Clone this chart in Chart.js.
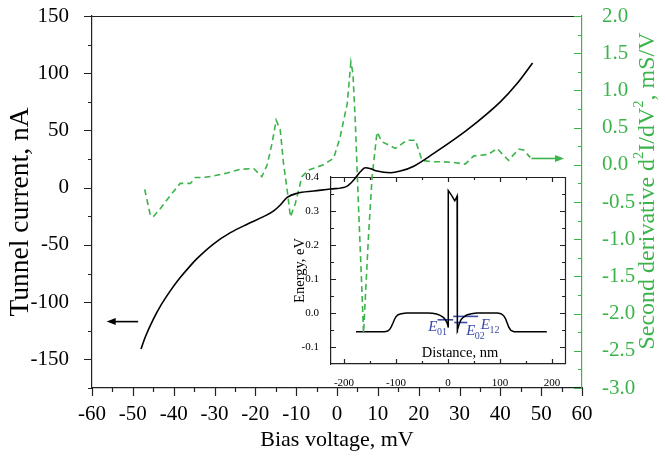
<!DOCTYPE html>
<html><head><meta charset="utf-8">
<script src="https://cdn.jsdelivr.net/npm/chart.js@4/dist/chart.umd.min.js"></script>
<style>
html,body{margin:0;padding:0;background:#fff;}
#wrap{position:relative;width:665px;height:459px;background:#fff;}
canvas{position:absolute;left:0;top:0;}
</style></head><body>
<div id="wrap"><canvas id="inset" width="665" height="459"></canvas><canvas id="main" width="665" height="459"></canvas></div>
<script>
// ---------- main chart data ----------
const ivVoltage = [-48.0,-46.9,-45.0,-43.0,-41.0,-38.5,-36.0,-34.3,-30.2,-26.1,-22.0,-18.0,-15.5,-13.9,-12.2,-9.8,-5.7,-1.6,2.5,4.1,5.7,6.9,8.3,9.8,13.1,15.5,18.8,23.7,31.8,40.0,44.1,47.9];
const ivCurrent = [-141,-130,-115,-102,-91,-79,-68.5,-62,-49,-39.3,-31.9,-25.3,-20.3,-15.1,-8.4,-4.9,-2.9,-1.2,1.4,6.7,13.9,17.4,16.5,14.5,13.1,14.5,18.8,30.0,50.3,75.0,91.0,109.0];

const d2Voltage = [-47.1,-45.7,-45.0,-43.3,-40.8,-38.4,-35.9,-34.7,-32.7,-30.2,-26.9,-23.7,-20.4,-18.4,-17.1,-15.9,-14.9,-13.9,-13.1,-12.2,-11.4,-10.2,-8.6,-7.0,-3.3,-0.8,0.8,2.5,3.4,3.9,4.5,5.2,6.0,6.5,7.7,8.6,9.8,11.0,14.3,17.1,19.2,20.8,23.3,26.1,28.6,31.4,33.5,37.1,39.2,42.0,44.5,45.7,47.3];
const d2Value   = [-0.33,-0.68,-0.70,-0.59,-0.41,-0.25,-0.25,-0.17,-0.17,-0.15,-0.11,-0.06,-0.05,-0.16,0.0,0.29,0.60,0.47,0.02,-0.34,-0.70,-0.52,-0.16,-0.07,0.0,0.09,0.38,0.82,1.38,1.23,0.56,-0.47,-1.55,-2.26,-0.97,-0.16,0.44,0.31,0.22,0.33,0.33,0.06,0.04,0.04,0.03,0.01,0.12,0.14,0.22,0.06,0.21,0.20,0.10];

const xTicks = [-60,-50,-40,-30,-20,-10,0,10,20,30,40,50,60];
const xMinorTicks = [-55,-45,-35,-25,-15,-5,5,15,25,35,45,55];
const currentTicks = [-150,-100,-50,0,50,100,150];
const currentMinorTicks = [-175,-125,-75,-25,25,75,125];
const derivTicks = [-3.0,-2.5,-2.0,-1.5,-1.0,-0.5,0.0,0.5,1.0,1.5,2.0];
const derivMinorTicks = [-2.75,-2.25,-1.75,-1.25,-0.75,-0.25,0.25,0.75,1.25,1.75];

// ---------- inset data ----------
const profileDistance = [-177,-122,-116,-112,-109,-106,-103,-100,-96,-90,-80,-40,-30,-22,-15,-9,-5,-2,0,0.5,0.5,6,10,13,15.5,17.5,17.5,18.5,20,22,25,30,36,45,55,95,102,107,111,114,117,121,127,190];
const profileEnergy   = [-0.055,-0.055,-0.053,-0.048,-0.040,-0.030,-0.019,-0.011,-0.005,-0.002,0,0,-0.001,-0.003,-0.007,-0.013,-0.020,-0.028,-0.038,-0.043,0.360,0.348,0.338,0.330,0.337,0.344,-0.058,-0.050,-0.040,-0.030,-0.020,-0.012,-0.006,-0.002,0,0,-0.002,-0.008,-0.018,-0.030,-0.042,-0.051,-0.055,-0.055];
const levelNames  = ['01','02','12'];
const levelEnergy = [-0.020,-0.028,-0.010];
const levelStart  = [-20,12,10];
const levelEnd    = [10,37,58];
const insetXTicks = [-200,-100,0,100,200];
const insetXMinorTicks = [-150,-50,50,150];
const insetYTicks = [-0.1,0.0,0.1,0.2,0.3,0.4];
const insetYMinorTicks = [-0.05,0.05,0.15,0.25,0.35];

// ---------- styling ----------
const SERIF = "'Liberation Serif','Times New Roman',serif";
const GREEN = '#3cb44b';
const BLUE = '#3a4aa8';
const AXIS = '#222';

function pts(xs, ys){ return xs.map((x,i)=>({x:x, y:ys[i]})); }
function setTicks(vals){ return s => { s.ticks = vals.map(v=>({value:v})); }; }
function fitV(w){ return s => { s.width = w; s.paddingTop = 0; s.paddingBottom = 0; }; }
function fitH(h){ return s => { s.height = h; s.paddingLeft = 0; s.paddingRight = 0; }; }

function tickMarks(ctx, scale, vals, edge, dir, len, color){
  ctx.save();
  ctx.strokeStyle = color; ctx.lineWidth = 1.2;
  ctx.beginPath();
  vals.forEach(v=>{
    const p = Math.round(scale.getPixelForValue(v)) + 0.5;
    if (scale.isHorizontal()){ ctx.moveTo(p, edge); ctx.lineTo(p, edge + dir*len); }
    else { ctx.moveTo(edge, p); ctx.lineTo(edge + dir*len, p); }
  });
  ctx.stroke();
  ctx.restore();
}
function arrow(ctx, x1, y, x2, color){
  const d = Math.sign(x2 - x1);
  ctx.save();
  ctx.strokeStyle = color; ctx.fillStyle = color; ctx.lineWidth = 1.6;
  ctx.beginPath(); ctx.moveTo(x1, y); ctx.lineTo(x2 - d*6, y); ctx.stroke();
  ctx.beginPath(); ctx.moveTo(x2, y); ctx.lineTo(x2 - d*9, y - 3.5); ctx.lineTo(x2 - d*9, y + 3.5); ctx.closePath(); ctx.fill();
  ctx.restore();
}
function richVertical(ctx, parts, cx, cy, size, supSize, raise, color){
  ctx.save();
  ctx.translate(cx, cy); ctx.rotate(-Math.PI/2);
  let total = 0;
  parts.forEach(p=>{ ctx.font = (p.sup ? supSize : size) + 'px ' + SERIF; p.w = ctx.measureText(p.t).width; total += p.w; });
  let x = -total/2;
  ctx.fillStyle = color; ctx.textBaseline = 'middle'; ctx.textAlign = 'left';
  parts.forEach(p=>{ ctx.font = (p.sup ? supSize : size) + 'px ' + SERIF; ctx.fillText(p.t, x, p.sup ? -raise : 0); x += p.w; });
  ctx.restore();
}

const mainDecor = {
  id: 'mainDecor',
  afterDatasetsDraw(chart){
    const {ctx, chartArea: a, scales: s} = chart;
    ctx.save();
    ctx.strokeStyle = AXIS; ctx.lineWidth = 1.2;
    ctx.beginPath(); ctx.moveTo(a.left, Math.round(a.top)+0.5); ctx.lineTo(a.right, Math.round(a.top)+0.5); ctx.stroke();
    ctx.restore();
    tickMarks(ctx, s.x, xTicks, a.bottom, 1, 8, AXIS);
    tickMarks(ctx, s.x, xMinorTicks, a.bottom, 1, 4, AXIS);
    tickMarks(ctx, s.y, currentTicks, a.left, -1, 8, AXIS);
    tickMarks(ctx, s.y, currentMinorTicks, a.left, -1, 4, AXIS);
    tickMarks(ctx, s.y2, derivTicks, a.right, -1, 8, GREEN);
    tickMarks(ctx, s.y2, derivMinorTicks, a.right, -1, 4, GREEN);
    const yb = s.y.getPixelForValue(-117);
    arrow(ctx, s.x.getPixelForValue(-48.7), yb, s.x.getPixelForValue(-56.4), '#000');
    const yg = s.y2.getPixelForValue(0.085);
    arrow(ctx, s.x.getPixelForValue(47.6), yg, s.x.getPixelForValue(55.6), GREEN);
    richVertical(ctx, [{t:'Tunnel current, nA'}], 21, 212, 27.5, 16, 0, '#000');
    richVertical(ctx, [{t:'Second derivative d'},{t:'2',sup:true},{t:'I/dV'},{t:'2',sup:true},{t:', mS/V'}], 648, 191, 24, 14.5, 8.5, GREEN);
  }
};

new Chart(document.getElementById('main'), {
  type: 'line',
  data: {
    datasets: [
      { label: 'Tunnel current', data: pts(ivVoltage, ivCurrent), yAxisID: 'y',
        borderColor: '#000', borderWidth: 1.6, pointRadius: 0, cubicInterpolationMode: 'monotone', fill: false },
      { label: 'Second derivative', data: pts(d2Voltage, d2Value), yAxisID: 'y2',
        borderColor: GREEN, borderWidth: 1.6, borderDash: [6,4], pointRadius: 0, tension: 0, fill: false }
    ]
  },
  options: {
    responsive: false, animation: false,
    layout: { padding: { top: 16, left: 0, right: 0, bottom: 0 } },
    plugins: { legend: { display: false }, tooltip: { enabled: false } },
    scales: {
      x: { type: 'linear', min: -60, max: 60,
        afterBuildTicks: setTicks(xTicks), afterFit: fitH(71),
        grid: { display: false }, border: { display: true, color: AXIS, width: 1.2 },
        ticks: { color: '#000', padding: 6, maxRotation: 0, font: { family: SERIF, size: 21 }, callback: v => String(v) },
        title: { display: true, text: 'Bias voltage, mV', color: '#000', font: { family: SERIF, size: 22 }, padding: { top: 0, bottom: 6 } } },
      y: { type: 'linear', position: 'left', min: -175, max: 150,
        afterBuildTicks: setTicks(currentTicks), afterFit: fitV(92),
        grid: { display: false }, border: { display: true, color: AXIS, width: 1.2 },
        ticks: { color: '#000', padding: 15, font: { family: SERIF, size: 21 }, callback: v => String(v) } },
      y2: { type: 'linear', position: 'right', min: -3, max: 2,
        afterBuildTicks: setTicks(derivTicks), afterFit: fitV(83),
        grid: { display: false }, border: { display: true, color: GREEN, width: 1.2 },
        ticks: { color: GREEN, padding: 12, font: { family: SERIF, size: 21 }, callback: v => Number(v).toFixed(1) } }
    }
  },
  plugins: [mainDecor]
});

// ---------- inset ----------
const insetDecor = {
  id: 'insetDecor',
  afterDatasetsDraw(chart){
    const {ctx, chartArea: a, scales: s} = chart;
    ctx.save();
    ctx.strokeStyle = AXIS; ctx.lineWidth = 1.2;
    ctx.beginPath();
    ctx.moveTo(a.left, Math.round(a.top)+0.5); ctx.lineTo(Math.round(a.right)+0.5, Math.round(a.top)+0.5);
    ctx.lineTo(Math.round(a.right)+0.5, a.bottom);
    ctx.stroke();
    ctx.restore();
    tickMarks(ctx, s.x, insetXTicks, a.bottom, -1, 5, AXIS);
    tickMarks(ctx, s.x, insetXMinorTicks, a.bottom, -1, 3, AXIS);
    tickMarks(ctx, s.x, insetXTicks, a.top, 1, 5, AXIS);
    tickMarks(ctx, s.x, insetXMinorTicks, a.top, 1, 3, AXIS);
    tickMarks(ctx, s.y, insetYTicks, a.left, 1, 5, AXIS);
    tickMarks(ctx, s.y, insetYMinorTicks, a.left, 1, 3, AXIS);
    tickMarks(ctx, s.y, insetYTicks, a.right, -1, 5, AXIS);
    tickMarks(ctx, s.y, insetYMinorTicks, a.right, -1, 3, AXIS);
    ctx.save();
    ctx.fillStyle = '#000'; ctx.font = '14.5px ' + SERIF; ctx.textAlign = 'center'; ctx.textBaseline = 'middle';
    ctx.fillText('Distance, nm', 460, 353);
    const anchors = [[-38, -0.054], [35, -0.064], [63, -0.047]];
    ctx.fillStyle = BLUE; ctx.textAlign = 'left'; ctx.textBaseline = 'alphabetic';
    levelNames.forEach((n, i) => {
      const x = s.x.getPixelForValue(anchors[i][0]);
      const y = s.y.getPixelForValue(anchors[i][1]);
      ctx.font = 'italic 15px ' + SERIF;
      ctx.fillText('E', x, y);
      const w = ctx.measureText('E').width;
      ctx.font = '10px ' + SERIF;
      ctx.fillText(n, x + w - 0.5, y + 4);
    });
    ctx.restore();
  }
};

const levelSets = levelNames.map((n, i) => ({
  label: 'E' + n, data: pts([levelStart[i], levelEnd[i]], [levelEnergy[i], levelEnergy[i]]),
  borderColor: BLUE, borderWidth: 1.6, pointRadius: 0, tension: 0, fill: false
}));

new Chart(document.getElementById('inset'), {
  type: 'line',
  data: {
    datasets: [
      { label: 'Profile', data: pts(profileDistance, profileEnergy), borderColor: '#000', borderWidth: 1.5,
        pointRadius: 0, tension: 0, fill: false },
      ...levelSets
    ]
  },
  options: {
    responsive: false, animation: false,
    layout: { padding: { top: 177, left: 291, right: 100, bottom: 55 } },
    plugins: { legend: { display: false }, tooltip: { enabled: false } },
    scales: {
      x: { type: 'linear', min: -225, max: 225,
        afterBuildTicks: setTicks(insetXTicks), afterFit: fitH(40),
        grid: { display: false }, border: { display: true, color: AXIS, width: 1.2 },
        ticks: { color: '#000', padding: 5, maxRotation: 0, font: { family: SERIF, size: 11 }, callback: v => String(v) } },
      y: { type: 'linear', min: -0.15, max: 0.4,
        afterBuildTicks: setTicks(insetYTicks), afterFit: fitV(40),
        grid: { display: false }, border: { display: true, color: AXIS, width: 1.2 },
        ticks: { color: '#000', padding: 4, font: { family: SERIF, size: 11 }, callback: v => Number(v).toFixed(1) },
        title: { display: true, text: 'Energy, eV', color: '#000', font: { family: SERIF, size: 14.5 }, padding: { top: 0, bottom: 0 } } }
    }
  },
  plugins: [insetDecor]
});
</script>
</body></html>
